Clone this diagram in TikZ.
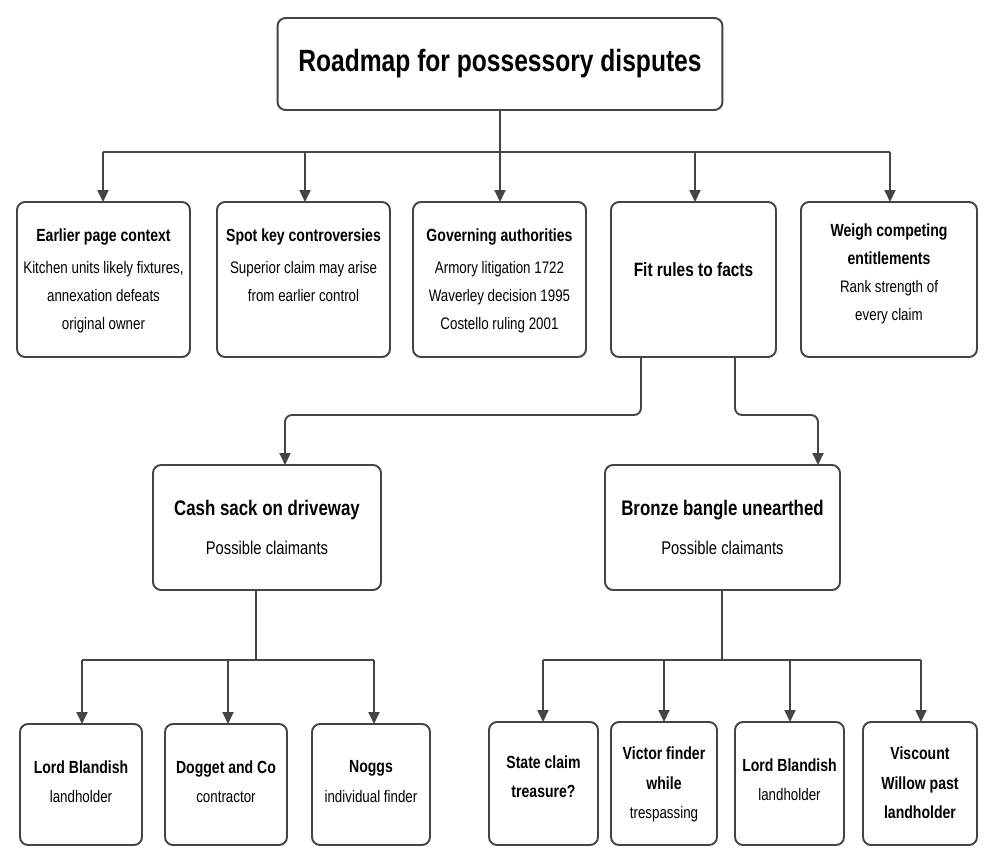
\documentclass[tikz,border=0pt]{standalone}
\usepackage{fontspec}
\setmainfont{Liberation Sans}[FakeStretch=0.8]
\usetikzlibrary{arrows.meta}
\definecolor{edgegray}{HTML}{444444}
\tikzset{
  card/.style={shape=rectangle, rounded corners=1.6mm, draw=edgegray, line width=1.1pt, fill=white},
  cardtxt/.style={anchor=north, align=center, inner sep=0pt, yshift=-0.54cm,
    font=\fontsize{9.5}{16}\selectfont},
  link/.style={-{Triangle[length=2.4mm,width=2.2mm]}, line width=1.1pt, draw=edgegray},
  wire/.style={line width=1.1pt, draw=edgegray, rounded corners=1.4mm}
}
\newcommand{\hd}[1]{{\bfseries\fontsize{10}{16}\selectfont #1}}
\begin{document}
\begin{tikzpicture}[x=0.02cm,y=-0.02cm]
  \useasboundingbox (0,0) rectangle (995,865);

  % top
  \node[card, minimum width=8.9cm, minimum height=1.84cm] (root) at (500,64)
    {\bfseries\fontsize{17.5}{20}\selectfont Roadmap for possessory disputes};

  % first row
  \node[card, minimum width=3.46cm, minimum height=3.1cm] (ctx) at (103.5,279.5) {};
  \node[card, minimum width=3.46cm, minimum height=3.1cm] (spot) at (303.5,279.5) {};
  \node[card, minimum width=3.46cm, minimum height=3.1cm] (auth) at (499.5,279.5) {};
  \node[card, minimum width=3.3cm, minimum height=3.1cm] (fit) at (693.5,279.5) {};
  \node[card, minimum width=3.52cm, minimum height=3.1cm] (weigh) at (889,279.5) {};
  \node[cardtxt] (ctx-t) at (ctx.north)
    {\hd{Earlier page context}\\[0.5ex]Kitchen units likely fixtures,\\annexation defeats\\original owner};
  \node[cardtxt] (spot-t) at (spot.north)
    {\hd{Spot key controversies}\\[0.5ex]Superior claim may arise\\from earlier control};
  \node[cardtxt] (auth-t) at (auth.north)
    {\hd{Governing authorities}\\[0.5ex]Armory litigation 1722\\Waverley decision 1995\\Costello ruling 2001};
  \node[font=\bfseries\fontsize{11}{16}\selectfont] (fit-t) at (693.5,270) {Fit rules to facts};
  \node[cardtxt, yshift=0.1cm] (weigh-t) at (weigh.north)
    {\hd{Weigh competing}\\\hd{entitlements}\\Rank strength of\\every claim};

  \coordinate (splitA) at (500,152);
  \draw[wire] (root.south) -- (splitA);
  \draw[wire] (103,152) -- (890,152);
  \foreach \x in {103,305,500,695,890}
    \draw[link] (\x,152) -- (\x,202);

  % second row
  \node[card, minimum width=4.56cm, minimum height=2.5cm] (cash) at (267,527.5) {};
  \node[card, minimum width=4.7cm, minimum height=2.5cm] (bangle) at (722.5,527.5) {};
  \node[align=center, font=\fontsize{10.5}{22}\selectfont] (cash-t) at (cash)
    {{\bfseries\fontsize{12}{22}\selectfont Cash sack on driveway}\\Possible claimants};
  \node[align=center, font=\fontsize{10.5}{22}\selectfont] (bangle-t) at (bangle)
    {{\bfseries\fontsize{12}{22}\selectfont Bronze bangle unearthed}\\Possible claimants};

  \draw[wire,-{Triangle[length=2.4mm,width=2.2mm]}] (641,357) -- (641,415) -- (285,415) -- (285,465);
  \draw[wire,-{Triangle[length=2.4mm,width=2.2mm]}] (735,357) -- (735,415) -- (818,415) -- (818,465);

  % leaves under cash
  \node[card, minimum width=2.44cm, minimum height=2.42cm] (blandA) at (81,784.5) {};
  \node[card, minimum width=2.44cm, minimum height=2.42cm] (dogget) at (226,784.5) {};
  \node[card, minimum width=2.36cm, minimum height=2.42cm] (noggs) at (371,784.5) {};
  \node[cardtxt, yshift=-0.2cm] (blandA-t) at (blandA.north) {\hd{Lord Blandish}\\[0.2ex]landholder};
  \node[cardtxt, yshift=-0.2cm] (dogget-t) at (dogget.north) {\hd{Dogget and Co}\\[0.2ex]contractor};
  \node[cardtxt, yshift=-0.2cm] (noggs-t) at (noggs.north) {\hd{Noggs}\\[0.2ex]individual finder};

  \draw[wire] (256,590) -- (256,660);
  \draw[wire] (82,660) -- (374,660);
  \foreach \x in {82,228,374}
    \draw[link] (\x,660) -- (\x,724);

  % leaves under bangle
  \node[cardtxt, yshift=-0.12cm, font=\fontsize{9.5}{16}\selectfont] at (0,0) {};
  \node[card, minimum width=2.18cm, minimum height=2.46cm] (state) at (543.5,783.5) {};
  \node[card, minimum width=2.12cm, minimum height=2.46cm] (victor) at (664,783.5) {};
  \node[card, minimum width=2.18cm, minimum height=2.46cm] (blandB) at (789.5,783.5) {};
  \node[card, minimum width=2.28cm, minimum height=2.46cm] (willow) at (920,783.5) {};
  \node[cardtxt, yshift=-0.14cm] (state-t) at (state.north) {\hd{State claim}\\[0.2ex]\hd{treasure?}};
  \node[cardtxt, yshift=0.04cm] (victor-t) at (victor.north) {\hd{Victor finder}\\[0.2ex]\hd{while}\\[0.2ex]trespassing};
  \node[cardtxt, yshift=-0.2cm] (blandB-t) at (blandB.north) {\hd{Lord Blandish}\\[0.2ex]landholder};
  \node[cardtxt, yshift=0.04cm] (willow-t) at (willow.north) {\hd{Viscount}\\[0.2ex]\hd{Willow past}\\[0.2ex]\hd{landholder}};

  \draw[wire] (722,590) -- (722,660);
  \draw[wire] (543,660) -- (921,660);
  \foreach \x in {543,664,790,921}
    \draw[link] (\x,660) -- (\x,722);
\end{tikzpicture}
\end{document}
